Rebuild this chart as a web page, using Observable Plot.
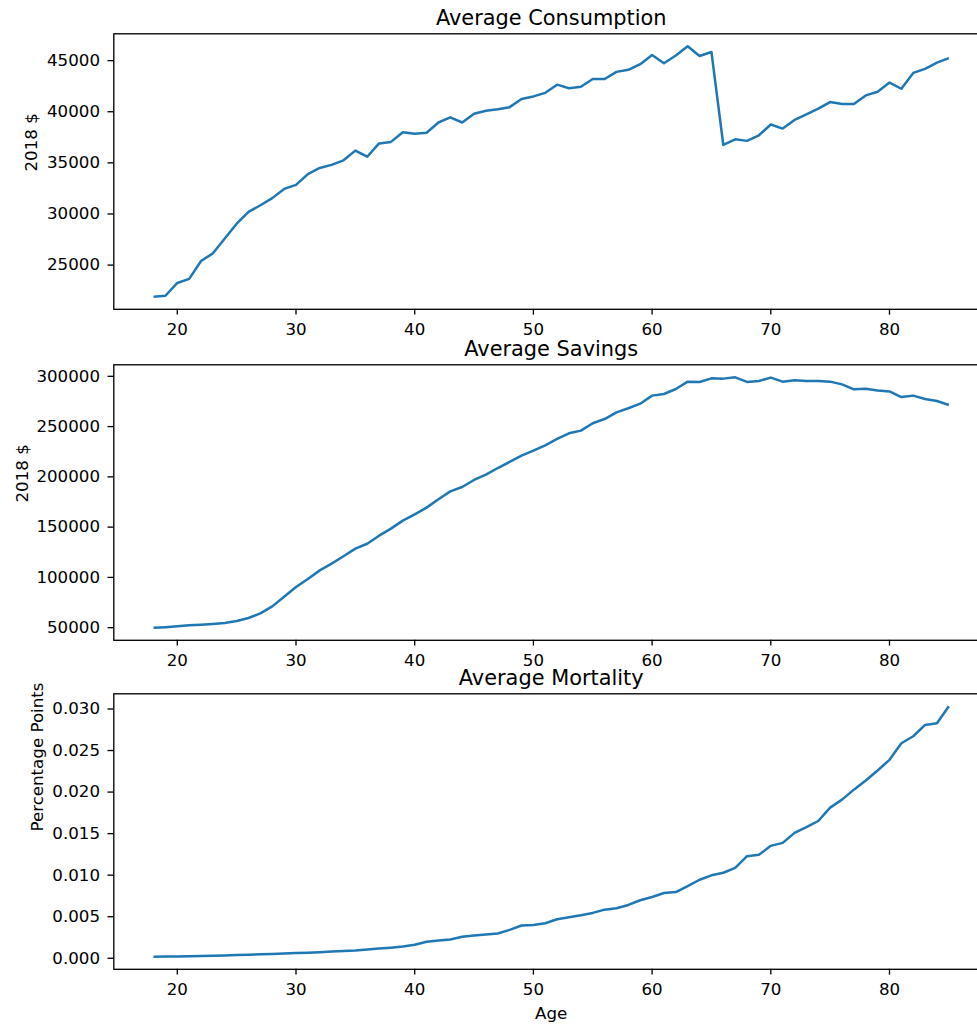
<!DOCTYPE html>
<html>
<head>
<meta charset="utf-8">
<script src="https://cdn.jsdelivr.net/npm/d3@7"></script>
<script src="https://cdn.jsdelivr.net/npm/@observablehq/plot@0.6"></script>
<style>
  body { margin: 0; background: #fff; }
  #wrap { position: relative; width: 977px; height: 1027px; overflow: hidden; background: #fff; }
  #wrap svg { position: absolute; left: 0; max-width: none !important; }
</style>
</head>
<body>
<div id="wrap"></div>
<script>
const ages = [18, 19, 20, 21, 22, 23, 24, 25, 26, 27, 28, 29, 30, 31, 32, 33, 34, 35, 36, 37,
  38, 39, 40, 41, 42, 43, 44, 45, 46, 47, 48, 49, 50, 51, 52, 53, 54, 55, 56, 57,
  58, 59, 60, 61, 62, 63, 64, 65, 66, 67, 68, 69, 70, 71, 72, 73, 74, 75, 76, 77,
  78, 79, 80, 81, 82, 83, 84, 85];

const consumption = [21900, 22000, 23250, 23650, 25400, 26150, 27600, 29050, 30200, 30850,
  31550, 32450, 32850, 33900, 34500, 34800, 35250, 36200, 35600, 36900,
  37050, 38000, 37850, 37950, 38950, 39450, 38950, 39800, 40100, 40250,
  40450, 41250, 41500, 41850, 42650, 42300, 42450, 43200, 43200, 43900,
  44100, 44650, 45550, 44750, 45500, 46400, 45450, 45850, 36750, 37300,
  37150, 37700, 38750, 38350, 39200, 39750, 40300, 40950, 40750, 40750,
  41600, 41950, 42850, 42250, 43800, 44200, 44800, 45250];

const savings = [49900, 50500, 51300, 52300, 53000, 53700, 54600, 56600, 59600, 64300,
  71200, 80800, 90400, 98400, 107000, 113700, 121000, 128600, 133500, 141500,
  148500, 156500, 162700, 169400, 177700, 185600, 189900, 196900, 202200, 208800,
  214800, 221100, 226000, 231400, 237700, 243300, 246000, 253300, 257500, 264200,
  268200, 272800, 280800, 282400, 287400, 294700, 294400, 298000, 297700, 299000,
  294400, 295400, 298700, 294700, 296000, 295400, 295400, 294700, 292000, 287100,
  287700, 286000, 285000, 279400, 280800, 277400, 275400, 271500];

const mortality = [0.00018, 0.0002, 0.00022, 0.00025, 0.00028, 0.00031, 0.00034, 0.00038, 0.00042, 0.00047,
  0.00051, 0.00056, 0.00062, 0.00067, 0.00073, 0.0008, 0.00087, 0.00094, 0.00105, 0.00117,
  0.00128, 0.00142, 0.00162, 0.00198, 0.00214, 0.00226, 0.00258, 0.00274, 0.00286, 0.00298,
  0.00342, 0.00394, 0.004, 0.00422, 0.0047, 0.00494, 0.00518, 0.00546, 0.00585, 0.00602,
  0.00642, 0.00698, 0.00737, 0.00785, 0.00797, 0.00869, 0.00945, 0.00998, 0.01029, 0.01089,
  0.01229, 0.01245, 0.01353, 0.01389, 0.01509, 0.01577, 0.01652, 0.01813, 0.01909, 0.02029,
  0.0214, 0.0226, 0.02388, 0.02588, 0.02672, 0.02808, 0.02828, 0.03032];

const xTicks = [20, 30, 40, 50, 60, 70, 80];
const consumptionTicks = [25000, 30000, 35000, 40000, 45000];
const savingsTicks = [50000, 100000, 150000, 200000, 250000, 300000];
const mortalityTicks = [0, 0.005, 0.01, 0.015, 0.02, 0.025, 0.03];

const titles = ["Average Consumption", "Average Savings", "Average Mortality"];
const yLabels = ["2018 $", "2018 $", "Percentage Points"];
const xLabel = "Age";

const panels = [
  {title: titles[0], ylabel: yLabels[0], values: consumption, ticks: consumptionTicks, fmt: d3.format("d"), labelX: 31, top: 0, xlabel: null},
  {title: titles[1], ylabel: yLabels[1], values: savings, ticks: savingsTicks, fmt: d3.format("d"), labelX: 22, top: 330.7, xlabel: null},
  {title: titles[2], ylabel: yLabels[2], values: mortality, ticks: mortalityTicks, fmt: d3.format(".3f"), labelX: 37, top: 660.3, xlabel: xLabel}
];

const W = 1000, ML = 113.3, FW = 874.8, MT = 33.3, FH = 275.5, MB = 60;
const FS = 16.67;
const wrap = document.getElementById("wrap");

for (const p of panels) {
  const data = ages.map((a, i) => ({age: a, v: p.values[i]}));
  const [lo, hi] = d3.extent(p.values);
  const pad = (hi - lo) * 0.05;
  const [xlo, xhi] = d3.extent(ages);
  const xpad = (xhi - xlo) * 0.05;
  const marks = [
    Plot.line(data, {x: "age", y: "v", stroke: "#1f77b4", strokeWidth: 2.5, strokeLinejoin: "round", strokeLinecap: "butt"}),
    Plot.frame({stroke: "black", strokeWidth: 1.33}),
    Plot.axisX({ticks: xTicks, tickFormat: d3.format("d"), tickSize: 5.8, tickPadding: 8.5, label: null, strokeWidth: 1.33, fontSize: FS}),
    Plot.axisY({ticks: p.ticks, tickFormat: p.fmt, tickSize: 5.8, tickPadding: 8, label: null, strokeWidth: 1.33, fontSize: FS}),
    Plot.text([p.title], {text: d => d, frameAnchor: "top", dy: -15.8, fontSize: 20.9, lineAnchor: "middle"}),
    Plot.text([p.ylabel], {text: d => d, frameAnchor: "left", dx: p.labelX - ML, rotate: -90, fontSize: FS, lineAnchor: "middle"})
  ];
  if (p.xlabel) {
    marks.push(Plot.text([p.xlabel], {text: d => d, frameAnchor: "bottom", dy: 44, fontSize: FS, lineAnchor: "middle"}));
  }
  const svg = Plot.plot({
    width: W,
    height: MT + FH + MB,
    marginLeft: ML,
    marginRight: W - ML - FW,
    marginTop: MT,
    marginBottom: MB,
    style: {fontFamily: "'DejaVu Sans', sans-serif", fontSize: FS + "px", color: "black", background: "transparent", overflow: "visible", maxWidth: "none"},
    x: {domain: [xlo - xpad, xhi + xpad]},
    y: {domain: [lo - pad, hi + pad]},
    marks
  });
  svg.style.top = p.top + "px";
  svg.style.maxWidth = "none";
  svg.style.width = W + "px";
  svg.style.height = (MT + FH + MB) + "px";
  wrap.appendChild(svg);
}
</script>
</body>
</html>
